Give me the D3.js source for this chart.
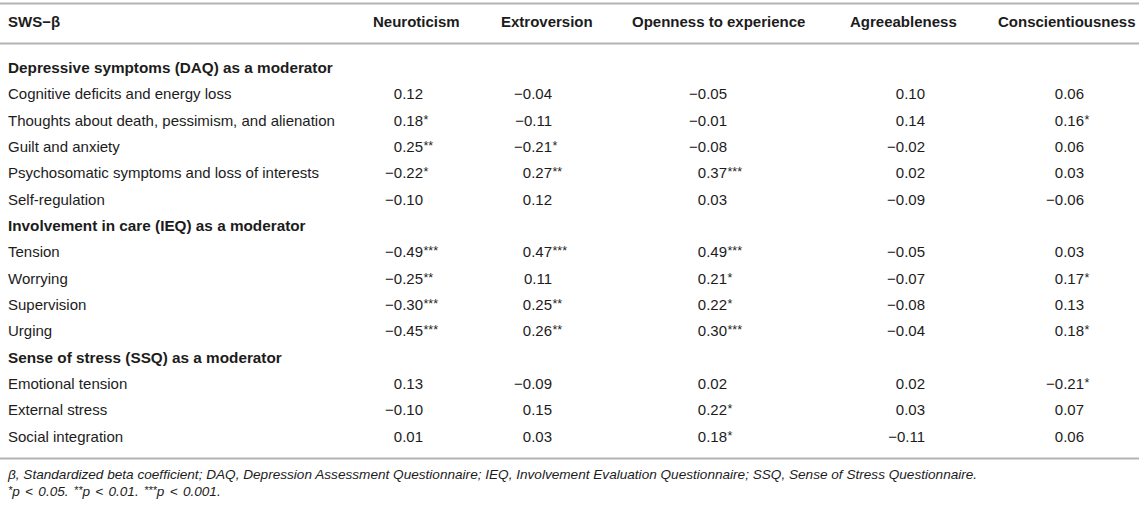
<!DOCTYPE html>
<html>
<head>
<meta charset="utf-8">
<script src="https://cdn.jsdelivr.net/npm/d3@7"></script>
<style>
  html, body { margin: 0; padding: 0; background: #fff; }
  svg { display: block; font-family: "Liberation Sans", Arial, sans-serif; }
</style>
</head>
<body>
<div id="table"></div>
<script>
// column headers (Big Five traits)
const traits = ["Neuroticism", "Extroversion", "Openness to experience", "Agreeableness", "Conscientiousness"];

// moderator sections and their rows
const sections = [
    "Depressive symptoms (DAQ) as a moderator",
    "Involvement in care (IEQ) as a moderator",
    "Sense of stress (SSQ) as a moderator"
];
const daqRows = ["Cognitive deficits and energy loss", "Thoughts about death, pessimism, and alienation",
    "Guilt and anxiety", "Psychosomatic symptoms and loss of interests", "Self-regulation"];
const ieqRows = ["Tension", "Worrying", "Supervision", "Urging"];
const ssqRows = ["Emotional tension", "External stress", "Social integration"];

// beta values per trait, rows in order DAQ(5), IEQ(4), SSQ(3)
const neuroticism       = [0.12, 0.18, 0.25, -0.22, -0.10, -0.49, -0.25, -0.30, -0.45, 0.13, -0.10, 0.01];
const extroversion      = [-0.04, -0.11, -0.21, 0.27, 0.12, 0.47, 0.11, 0.25, 0.26, -0.09, 0.15, 0.03];
const openness          = [-0.05, -0.01, -0.08, 0.37, 0.03, 0.49, 0.21, 0.22, 0.30, 0.02, 0.22, 0.18];
const agreeableness     = [0.10, 0.14, -0.02, 0.02, -0.09, -0.05, -0.07, -0.08, -0.04, 0.02, 0.03, -0.11];
const conscientiousness = [0.06, 0.16, 0.06, 0.03, -0.06, 0.03, 0.17, 0.13, 0.18, -0.21, 0.07, 0.06];

// significance stars per trait
const neuroticismSig       = ["", "*", "**", "*", "", "***", "**", "***", "***", "", "", ""];
const extroversionSig      = ["", "", "*", "**", "", "***", "", "**", "**", "", "", ""];
const opennessSig          = ["", "", "", "***", "", "***", "*", "*", "***", "", "*", "*"];
const agreeablenessSig     = ["", "", "", "", "", "", "", "", "", "", "", ""];
const conscientiousnessSig = ["", "*", "", "", "", "", "*", "", "*", "*", "", ""];

const values = [neuroticism, extroversion, openness, agreeableness, conscientiousness];
const sigs = [neuroticismSig, extroversionSig, opennessSig, agreeablenessSig, conscientiousnessSig];

let width = 1143;
let height = 505;
const ink = "#1c1c1c";
const rule = "#b4b4b4";

// layout of columns
const labelX = 8;
const headX = [373, 501, 632, 850, 998];     // header left edge
const numRight = [423, 552, 727, 925, 1084]; // right edge of the numbers

const svg = d3.select("#table")
    .append("svg")
    .attr("width", width)
    .attr("height", height);

// flatten rows: section headings + data rows
const groups = [daqRows, ieqRows, ssqRows];
const rows = [];
let k = 0;
groups.forEach(function (g, si) {
    rows.push({ type: "section", label: sections[si] });
    g.forEach(function (lab) {
        rows.push({ type: "data", label: lab, idx: k });
        k++;
    });
});

// row baselines
const y = d3.scaleLinear().domain([0, rows.length - 1]).range([73, 441.5]);
const fmt = d3.format(".2f");   // d3 uses the real minus sign

// horizontal rules
[3.5, 43.5, 458.5].forEach(function (yy) {
    svg.append("line")
        .attr("x1", 0).attr("x2", 1139)
        .attr("y1", yy).attr("y2", yy)
        .attr("stroke", rule).attr("stroke-width", 2);
});

// header
svg.append("text")
    .attr("x", labelX).attr("y", 26.5)
    .attr("font-size", 15).attr("font-weight", "bold").attr("fill", ink)
    .text("SWS\u2212\u03b2");

svg.selectAll("text.head")
    .data(traits)
    .enter()
    .append("text")
    .attr("class", "head")
    .attr("x", function (d, i) { return headX[i]; })
    .attr("y", 26.5)
    .attr("font-size", 15)
    .attr("font-weight", "bold")
    .attr("fill", ink)
    .text(function (d) { return d; });

// row labels
svg.selectAll("text.rowlab")
    .data(rows)
    .enter()
    .append("text")
    .attr("class", "rowlab")
    .attr("x", labelX)
    .attr("y", function (d, i) { return y(i); })
    .attr("font-size", function (d) { return d.type === "section" ? 15.3 : 15; })
    .attr("font-weight", function (d) { return d.type === "section" ? "bold" : "normal"; })
    .attr("fill", ink)
    .text(function (d) { return d.label; });

// cells
const cells = [];
rows.forEach(function (r, ri) {
    if (r.type !== "data") return;
    values.forEach(function (col, ci) {
        cells.push({ row: ri, col: ci, v: col[r.idx], s: sigs[ci][r.idx] });
    });
});

svg.selectAll("text.num")
    .data(cells)
    .enter()
    .append("text")
    .attr("class", "num")
    .attr("x", function (d) { return numRight[d.col]; })
    .attr("y", function (d) { return y(d.row); })
    .attr("text-anchor", "end")
    .attr("font-size", 15)
    .attr("fill", ink)
    .text(function (d) { return fmt(d.v); });

svg.selectAll("text.star")
    .data(cells.filter(function (d) { return d.s; }))
    .enter()
    .append("text")
    .attr("class", "star")
    .attr("x", function (d) { return numRight[d.col] + 0.5; })
    .attr("y", function (d) { return y(d.row) - 2; })
    .attr("font-size", 12.5)
    .attr("fill", ink)
    .text(function (d) { return d.s; });

// footnotes
svg.append("text")
    .attr("x", labelX).attr("y", 478.5)
    .attr("font-size", 13.6).attr("font-style", "italic").attr("fill", ink)
    .text("\u03b2, Standardized beta coefficient; DAQ, Depression Assessment Questionnaire; IEQ, Involvement Evaluation Questionnaire; SSQ, Sense of Stress Questionnaire.");

const fn2 = svg.append("text")
    .attr("x", labelX).attr("y", 495.5)
    .attr("font-size", 13.6).attr("font-style", "italic").attr("fill", ink)
    .attr("word-spacing", 1.5);
const notes = [["*", "p < 0.05. "], ["**", "p < 0.01. "], ["***", "p < 0.001."]];
notes.forEach(function (n) {
    fn2.append("tspan").attr("font-size", 11).attr("dy", -2).text(n[0]);
    fn2.append("tspan").attr("dy", 2).text(n[1]);
});
</script>
</body>
</html>
